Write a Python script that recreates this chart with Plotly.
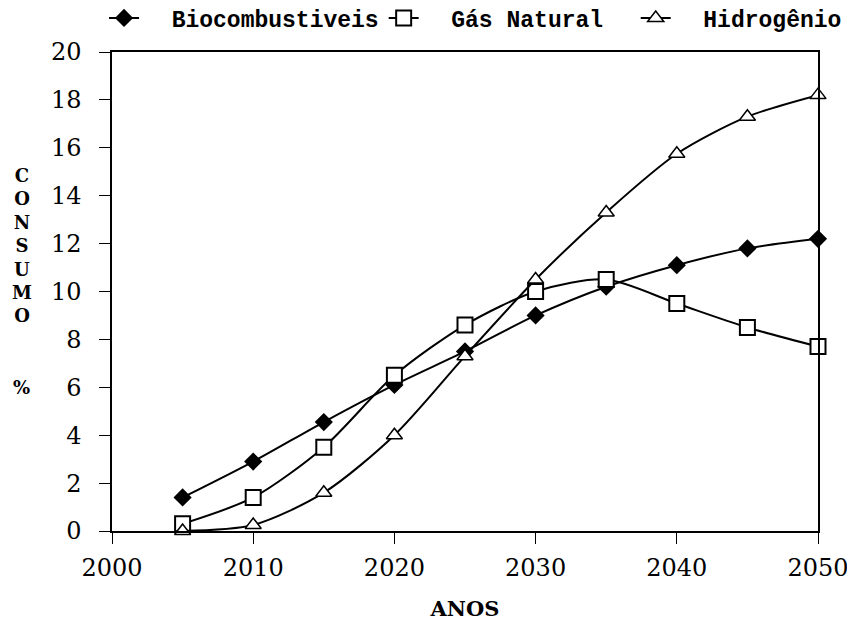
import plotly.graph_objects as go

anos = [2005, 2010, 2015, 2020, 2025, 2030, 2035, 2040, 2045, 2050]
biocombustiveis = [1.4, 2.9, 4.55, 6.1, 7.5, 9.0, 10.2, 11.1, 11.8, 12.2]
gas_natural = [0.3, 1.4, 3.5, 6.5, 8.6, 10.0, 10.5, 9.5, 8.5, 7.7]
hidrogenio = [0.0, 0.25, 1.6, 4.0, 7.3, 10.5, 13.3, 15.75, 17.3, 18.2]

nbsp = "\u00a0"
serif = "DejaVu Serif"
linha = dict(color="black", width=2, shape="spline", smoothing=0.8)

fig = go.Figure()
fig.add_trace(go.Scatter(
    x=anos, y=biocombustiveis, name=nbsp * 2 + "Biocombustiveis", mode="lines+markers",
    line=linha, cliponaxis=False,
    marker=dict(symbol="diamond", size=14, color="black"),
))
fig.add_trace(go.Scatter(
    x=anos, y=gas_natural, name=nbsp * 2 + "Gás Natural" + nbsp * 2, mode="lines+markers",
    line=linha, cliponaxis=False,
    marker=dict(symbol="square", size=15, color="white", line=dict(color="black", width=2)),
))
fig.add_trace(go.Scatter(
    x=anos, y=hidrogenio, name=nbsp * 2 + "Hidrogênio", mode="lines+markers",
    line=linha, cliponaxis=False,
    marker=dict(symbol="triangle-up", size=14, color="white", line=dict(color="black", width=1.5)),
))

# the page body adds an 8px offset, so the figure is 8px smaller here
fig.update_layout(
    width=847, height=613,
    margin=dict(l=104, r=37, t=44, b=90, autoexpand=False),
    paper_bgcolor="white", plot_bgcolor="white",
    font=dict(family=serif, color="black", size=24),
    legend=dict(
        orientation="h", x=-0.0113, xanchor="left", y=1.071, yanchor="middle",
        font=dict(family="Liberation Mono", size=23, weight="bold"),
        bgcolor="rgba(0,0,0,0)", tracegroupgap=0,
    ),
    annotations=[
        dict(text="<b>C<br>O<br>N<br>S<br>U<br>M<br>O</b>", xref="paper", yref="paper",
             x=-0.128, y=0.596, xanchor="center", yanchor="middle", showarrow=False,
             font=dict(family=serif, size=18)),
        dict(text="<b>%</b>", xref="paper", yref="paper",
             x=-0.128, y=0.3, xanchor="center", yanchor="middle", showarrow=False,
             font=dict(family=serif, size=18)),
    ],
)
fig.update_xaxes(
    range=[2000, 2050], tickvals=[2000, 2010, 2020, 2030, 2040, 2050],
    tickfont=dict(family=serif, size=24, color="black"), automargin=False,
    showgrid=False, zeroline=False, showline=True, linecolor="black", linewidth=1.5,
    mirror=True, ticks="outside", ticklen=11, tickcolor="black", ticklabelstandoff=3,
    title=dict(text="<b>ANOS</b>", font=dict(family=serif, size=21), standoff=26),
)
fig.update_yaxes(
    range=[0, 20], dtick=2, automargin=False,
    tickfont=dict(family=serif, size=24, color="black"),
    showgrid=False, zeroline=False, showline=True, linecolor="black", linewidth=1.5,
    mirror=True, ticks="outside", ticklen=11, tickcolor="black", ticklabelstandoff=13,
)

fig.write_html("out.html")
